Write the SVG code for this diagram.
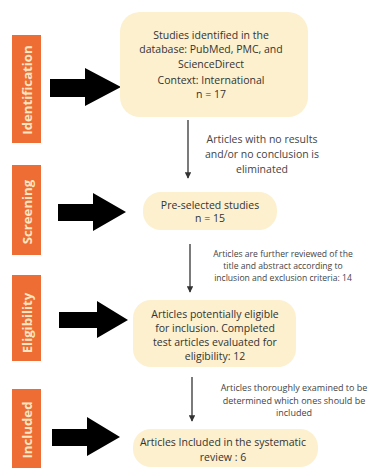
<svg xmlns="http://www.w3.org/2000/svg" width="374" height="468" viewBox="0 0 374 468">
<defs>
<style>
.bar{fill:#EE6D35}
.bar-t{fill:#FBE6C4;font-family:"Open Sans","Noto Sans",sans-serif;font-weight:bold;font-size:13.2px;text-anchor:middle}
.box{fill:#FCF0CE}
.bt{fill:#333;font-family:"Open Sans","Noto Sans",sans-serif;font-size:10.5px;text-anchor:middle}
.lt{fill:#444;font-family:"Open Sans","Noto Sans",sans-serif;font-size:10.5px;text-anchor:middle}
.big{fill:#000}
.conn{stroke:#333;stroke-width:1.3;fill:none;marker-end:url(#ah)}
</style>
<marker id="ah" viewBox="0 0 10 10" refX="9" refY="5" markerWidth="5" markerHeight="5" orient="auto">
<path d="M0,0 L10,5 L0,10 z" fill="#333"/>
</marker>
</defs>
<rect width="374" height="468" fill="#fff"/>

<g id="stage-identification">
<rect class="bar" x="12" y="35" width="29" height="108"/>
<text class="bar-t" transform="translate(31.5,90) rotate(-90)">Identification</text>
<path class="big" d="M50,79 H85 V68 L121,87 L85,106 V97 H50 z"/>
</g>
<g id="stage-screening">
<rect class="bar" x="12" y="165" width="29" height="90"/>
<text class="bar-t" transform="translate(31.5,212) rotate(-90)">Screening</text>
<path class="big" d="M58,204 H93 V193 L126,212 L93,231 V221 H58 z"/>
</g>
<g id="stage-eligibility">
<rect class="bar" x="12" y="275" width="29" height="86"/>
<text class="bar-t" transform="translate(31.5,323) rotate(-90)">Eligibility</text>
<path class="big" d="M59,312 H97 V301 L128,320 L97,338 V328 H59 z"/>
</g>
<g id="stage-included">
<rect class="bar" x="12" y="389" width="29" height="79"/>
<text class="bar-t" transform="translate(31.5,430) rotate(-90)">Included</text>
<path class="big" d="M52,429 H87 V417 L120,437 L87,456 V446 H52 z"/>
</g>

<g id="box-identified">
<rect class="box" x="120" y="12" width="188" height="105" rx="20"/>
<text class="bt" x="211" y="39">Studies identified in the</text>
<text class="bt" x="211" y="53">database: PubMed, PMC, and</text>
<text class="bt" x="211" y="68">ScienceDirect</text>
<text class="bt" x="211" y="84">Context: International</text>
<text class="bt" x="211" y="98">n = 17</text>
</g>
<g id="box-preselected">
<rect class="box" x="143" y="192" width="134" height="38" rx="18"/>
<text class="bt" x="210" y="209">Pre-selected studies</text>
<text class="bt" x="210" y="222">n = 15</text>
</g>
<g id="box-eligible">
<rect class="box" x="133" y="300" width="163" height="67" rx="18"/>
<text class="bt" x="215" y="318">Articles potentially eligible</text>
<text class="bt" x="215" y="332">for inclusion. Completed</text>
<text class="bt" x="215" y="346">test articles evaluated for</text>
<text class="bt" x="215" y="360">eligibility: 12</text>
</g>
<g id="box-included">
<rect class="box" x="133" y="429" width="185" height="38" rx="18"/>
<text class="bt" x="223" y="446">Articles Included in the systematic</text>
<text class="bt" x="223" y="461">review : 6</text>
</g>

<g id="connectors">
<line class="conn" x1="188" y1="120" x2="188" y2="178"/>
<line class="conn" x1="190" y1="244" x2="190" y2="292"/>
<line class="conn" x1="192" y1="377" x2="192" y2="421"/>
<text class="lt" x="262" y="143">Articles with no results</text>
<text class="lt" x="262" y="158">and/or no conclusion is</text>
<text class="lt" x="262" y="173">eliminated</text>
<text class="lt" x="283" y="257" style="font-size:8.6px">Articles are further reviewed of the</text>
<text class="lt" x="283" y="269" style="font-size:8.6px">title and abstract according to</text>
<text class="lt" x="283" y="281" style="font-size:8.6px">inclusion and exclusion criteria: 14</text>
<text class="lt" x="294" y="391" style="font-size:9px">Articles thoroughly examined to be</text>
<text class="lt" x="294" y="404" style="font-size:9px">determined which ones should be</text>
<text class="lt" x="294" y="416" style="font-size:9px">included</text>
</g>
</svg>
